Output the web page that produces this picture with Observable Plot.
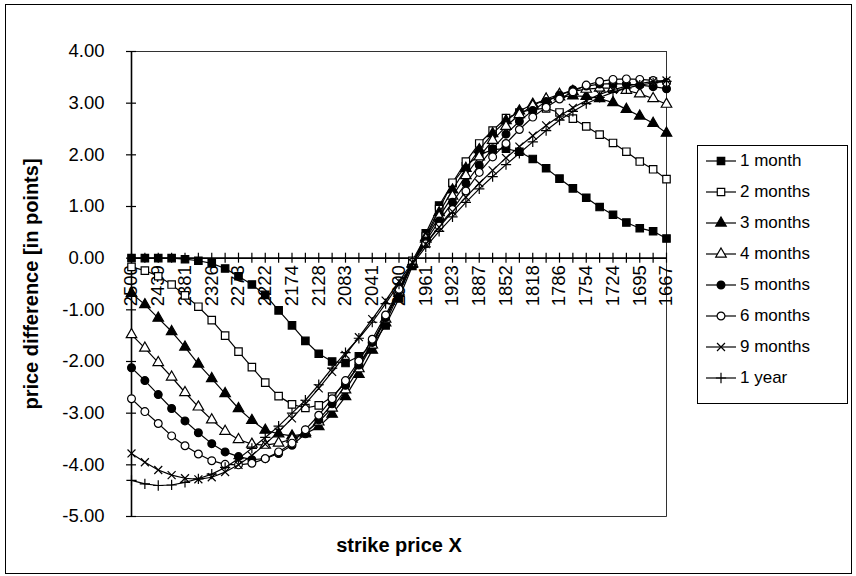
<!DOCTYPE html>
<html><head><meta charset="utf-8">
<script src="https://cdn.jsdelivr.net/npm/d3@7"></script>
<script src="https://cdn.jsdelivr.net/npm/@observablehq/plot@0.6"></script>
<style>
body{margin:0;background:#fff;}
#wrap{position:relative;width:856px;height:576px;font-family:Arial,"Liberation Sans",sans-serif;}
#border{position:absolute;left:5px;top:4px;width:845px;height:568px;border:1px solid #000;pointer-events:none;}
#chart{position:absolute;left:0;top:0;}
#legend{position:absolute;left:697px;top:145px;width:149px;height:257px;border:1px solid #000;background:#fff;}
.row{position:absolute;left:0;height:24px;display:flex;align-items:center;font-size:17px;color:#000;white-space:nowrap;}
.row svg{display:block;}
</style></head>
<body><div id="wrap"><div id="chart"></div><div id="border"></div><div id="legend"></div></div>
<script>
// strike price tick labels (every second category)
const strikeLabels = ["2500","2439","2381","2326","2273","2222","2174","2128","2083","2041","2000","1961","1923","1887","1852","1818","1786","1754","1724","1695","1667"];
const yTicks = [-5,-4,-3,-2,-1,0,1,2,3,4];
const seriesNames = ["1 month","2 months","3 months","4 months","5 months","6 months","9 months","1 year"];

// price differences, 41 categories each
const m1 = [0,0,0,0,-0.02,-0.05,-0.10,-0.20,-0.35,-0.51,-0.71,-1.01,-1.30,-1.60,-1.85,-2.00,-2.03,-1.90,-1.68,-1.30,-0.78,-0.15,0.48,1.02,1.45,1.78,2.00,2.10,2.12,2.06,1.92,1.74,1.54,1.35,1.17,0.99,0.84,0.69,0.58,0.52,0.38];
const m2 = [-0.17,-0.24,-0.35,-0.51,-0.72,-0.94,-1.20,-1.50,-1.81,-2.11,-2.41,-2.67,-2.83,-2.90,-2.85,-2.68,-2.42,-2.08,-1.66,-1.17,-0.62,-0.05,0.42,0.95,1.46,1.87,2.22,2.47,2.71,2.82,2.88,2.90,2.82,2.70,2.55,2.39,2.23,2.06,1.87,1.72,1.53];
const m3 = [-0.68,-0.90,-1.16,-1.42,-1.72,-2.05,-2.33,-2.62,-2.91,-3.14,-3.33,-3.40,-3.44,-3.40,-3.26,-3.02,-2.68,-2.25,-1.78,-1.25,-0.68,-0.12,0.40,0.88,1.32,1.74,2.10,2.41,2.66,2.85,2.98,3.07,3.12,3.14,3.13,3.09,3.01,2.88,2.75,2.61,2.42];
const m4 = [-1.48,-1.74,-2.02,-2.30,-2.60,-2.88,-3.13,-3.35,-3.51,-3.60,-3.62,-3.58,-3.50,-3.37,-3.17,-2.90,-2.55,-2.14,-1.68,-1.18,-0.65,-0.10,0.37,0.80,1.20,1.60,1.96,2.28,2.55,2.78,2.95,3.08,3.17,3.23,3.27,3.29,3.29,3.25,3.18,3.09,2.98];
const m5 = [-2.12,-2.37,-2.64,-2.91,-3.15,-3.38,-3.59,-3.75,-3.84,-3.90,-3.88,-3.78,-3.62,-3.40,-3.13,-2.82,-2.46,-2.07,-1.63,-1.15,-0.63,-0.09,0.33,0.72,1.08,1.45,1.80,2.12,2.40,2.65,2.86,3.03,3.16,3.26,3.33,3.37,3.38,3.37,3.35,3.32,3.28];
const m6 = [-2.72,-2.97,-3.20,-3.44,-3.63,-3.79,-3.92,-3.99,-4.00,-3.97,-3.88,-3.75,-3.58,-3.32,-3.04,-2.72,-2.37,-1.99,-1.57,-1.10,-0.60,-0.08,0.28,0.62,0.94,1.30,1.66,1.96,2.22,2.49,2.73,2.92,3.08,3.22,3.35,3.42,3.46,3.47,3.46,3.44,3.40];
const m9 = [-3.78,-3.95,-4.10,-4.20,-4.26,-4.28,-4.24,-4.14,-4.00,-3.82,-3.60,-3.36,-3.10,-2.82,-2.52,-2.20,-1.87,-1.53,-1.18,-0.82,-0.45,-0.08,0.27,0.60,0.90,1.18,1.45,1.70,1.94,2.16,2.37,2.57,2.75,2.91,3.05,3.17,3.26,3.33,3.38,3.42,3.44];
const y1 = [-4.30,-4.37,-4.40,-4.39,-4.34,-4.27,-4.18,-4.05,-3.88,-3.68,-3.47,-3.25,-3.00,-2.75,-2.45,-2.13,-1.83,-1.55,-1.24,-0.88,-0.50,-0.12,0.22,0.52,0.80,1.08,1.34,1.58,1.81,2.03,2.25,2.47,2.67,2.84,2.99,3.11,3.21,3.29,3.35,3.39,3.42];

const seriesValues = [m1,m2,m3,m4,m5,m6,m9,y1];
const styles = [
  {symbol:"square", fill:"#000", r:4.2},
  {symbol:"square", fill:"#fff", r:4.2},
  {symbol:"triangle", fill:"#000", r:3.9},
  {symbol:"triangle", fill:"#fff", r:3.9},
  {symbol:"circle", fill:"#000", r:3.9},
  {symbol:"circle", fill:"#fff", r:3.9},
  {symbol:"times", fill:"none", r:3.7},
  {symbol:"plus", fill:"none", r:3.4}
];

const categories = d3.range(m1.length);
const labelRows = strikeLabels.map((t, k) => ({i: k * 2, t}));

const marks = [
  Plot.frame({stroke:"#000", strokeWidth:0.8}),
  Plot.ruleY([0], {stroke:"#000", strokeWidth:1.6}),
  Plot.ruleX([0], {stroke:"#000", strokeWidth:1.6}),
  Plot.ruleX(categories, {x: d => d, y1: 0, y2: 0, insetTop: -5, insetBottom: -5, stroke:"#000", strokeWidth:1.2}),
  Plot.ruleY(yTicks, {y: d => d, x1: 0, x2: 0, insetLeft: -5, insetRight: -5, stroke:"#000", strokeWidth:1.2}),
  Plot.text(labelRows, {x: "i", y: () => 0, text: "t", rotate: -90, textAnchor: "end", lineAnchor: "middle", dy: 7, fontSize: 18.5})
];
seriesValues.forEach((vals, s) => {
  const rows = vals.map((v, i) => ({i, v}));
  marks.push(Plot.line(rows, {x: "i", y: "v", stroke: "#000", strokeWidth: 1.2}));
  marks.push(Plot.dot(rows, {x: "i", y: "v", symbol: () => styles[s].symbol, fill: styles[s].fill, stroke: "#000", strokeWidth: 1.2, r: styles[s].r}));
});
marks.push(Plot.text(["strike price X"], {frameAnchor: "bottom", lineAnchor: "middle", dy: 29, fontWeight: "bold", fontSize: 20}));
marks.push(Plot.text(["price difference [in points]"], {frameAnchor: "left", rotate: -90, textAnchor: "middle", lineAnchor: "middle", dx: -100, fontWeight: "bold", fontSize: 20}));

const chart = Plot.plot({
  width: 856, height: 576,
  marginLeft: 131, marginRight: 190, marginTop: 51, marginBottom: 60,
  style: {fontFamily: "Arial, 'Liberation Sans', sans-serif", fontSize: "18.5px", color: "#000", background: "transparent", overflow: "visible"},
  x: {type: "linear", domain: [0, 40], axis: null},
  y: {domain: [-5, 4], ticks: yTicks, tickFormat: d => d.toFixed(2), tickSize: 0, tickPadding: 27, label: null},
  symbol: {type: "identity"},
  marks
});
document.getElementById("chart").appendChild(chart);

// legend
const legend = document.getElementById("legend");
seriesNames.forEach((name, s) => {
  const row = document.createElement("div");
  row.className = "row";
  row.style.top = (3 + s * 31) + "px";
  const sym = d3.symbol(d3["symbol" + {square:"Square",triangle:"Triangle",circle:"Circle",times:"Times",plus:"Plus"}[styles[s].symbol]], Math.PI * styles[s].r * styles[s].r)();
  row.innerHTML = `<svg width="42" height="24"><line x1="8" x2="38" y1="12" y2="12" stroke="#000" stroke-width="1.2"/><path d="${sym}" transform="translate(23,12)" fill="${styles[s].fill}" stroke="#000" stroke-width="1.2"/></svg><span>${name}</span>`;
  legend.appendChild(row);
});
</script>
</body></html>
